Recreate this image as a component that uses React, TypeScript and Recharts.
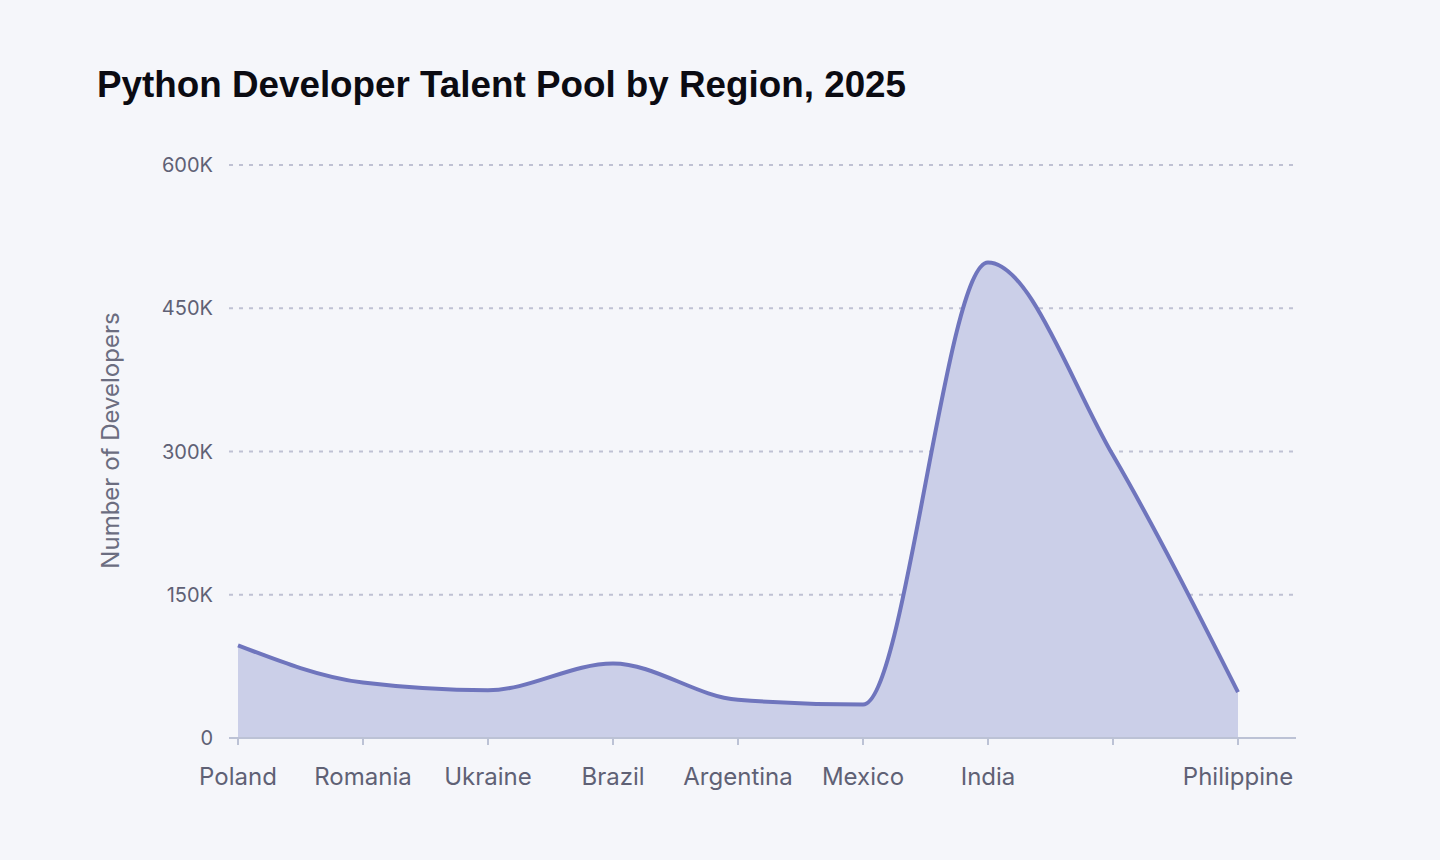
import React from 'react';
import { AreaChart, Area, XAxis, YAxis, CartesianGrid, Label } from 'recharts';

const regions = ['Poland', 'Romania', 'Ukraine', 'Brazil', 'Argentina', 'Mexico', 'India', 'Southeast Asia', 'Philippine'];
const developers = [97000, 58000, 50000, 78000, 40000, 35000, 498000, 296000, 48000];
const xTickLabels = ['Poland', 'Romania', 'Ukraine', 'Brazil', 'Argentina', 'Mexico', 'India', '', 'Philippine'];
const yTicks = [0, 150000, 300000, 450000, 600000];
const yTickLabels = ['0', '150K', '300K', '450K', '600K'];

const data = regions.map((r, i) => ({ region: r, developers: developers[i] }));

const LINE = '#6f75bd';
const FILL = '#cbcfe8';
const TICK = '#5f6175';

export default function App() {
  return (
    <div style={{ position: 'fixed', left: 0, top: 0, width: 1440, height: 860, background: '#f5f6fa' }}>
      <div
        style={{
          position: 'absolute',
          left: 97,
          top: 64,
          fontFamily: '"Liberation Sans", sans-serif',
          fontWeight: 700,
          fontSize: 36.8,
          color: '#0b0b12',
          whiteSpace: 'nowrap',
        }}
      >
        Python Developer Talent Pool by Region, 2025
      </div>
      <div style={{ position: 'absolute', left: 0, top: 0 }}>
        <AreaChart
          width={1440}
          height={860}
          data={data}
          margin={{ top: 165, right: 144, bottom: 92, left: 80 }}
        >
          <CartesianGrid vertical={false} stroke="#bfc1d3" strokeDasharray="4 6" strokeWidth={2} />
          <XAxis
            dataKey="region"
            interval={0}
            padding={{ left: 9, right: 58 }}
            tickFormatter={(_v: string, i: number) => xTickLabels[i]}
            tick={{ fill: TICK, fontSize: 24, fontFamily: 'Inter, sans-serif' }}
            tickSize={7}
            tickMargin={23}
            axisLine={{ stroke: '#bcc2d5', strokeWidth: 2 }}
            tickLine={{ stroke: '#bcc2d5', strokeWidth: 2 }}
          />
          <YAxis
            width={149}
            domain={[0, 600000]}
            ticks={yTicks}
            tickFormatter={(v: number) => yTickLabels[yTicks.indexOf(v)]}
            tick={{ fill: TICK, fontSize: 20, fontFamily: 'Inter, sans-serif' }}
            tickLine={false}
            axisLine={false}
            tickSize={0}
            tickMargin={16}
          >
            <Label
              value="Number of Developers"
              angle={-90}
              position="insideLeft"
              offset={30}
              dy={-11}
              style={{ textAnchor: 'middle', fill: '#6b6d80', fontSize: 24, fontFamily: 'Inter, sans-serif' }}
            />
          </YAxis>
          <Area
            type="monotone"
            dataKey="developers"
            stroke={LINE}
            strokeWidth={4}
            fill={FILL}
            fillOpacity={1}
            dot={false}
            activeDot={false}
            isAnimationActive={false}
          />
        </AreaChart>
      </div>
    </div>
  );
}
